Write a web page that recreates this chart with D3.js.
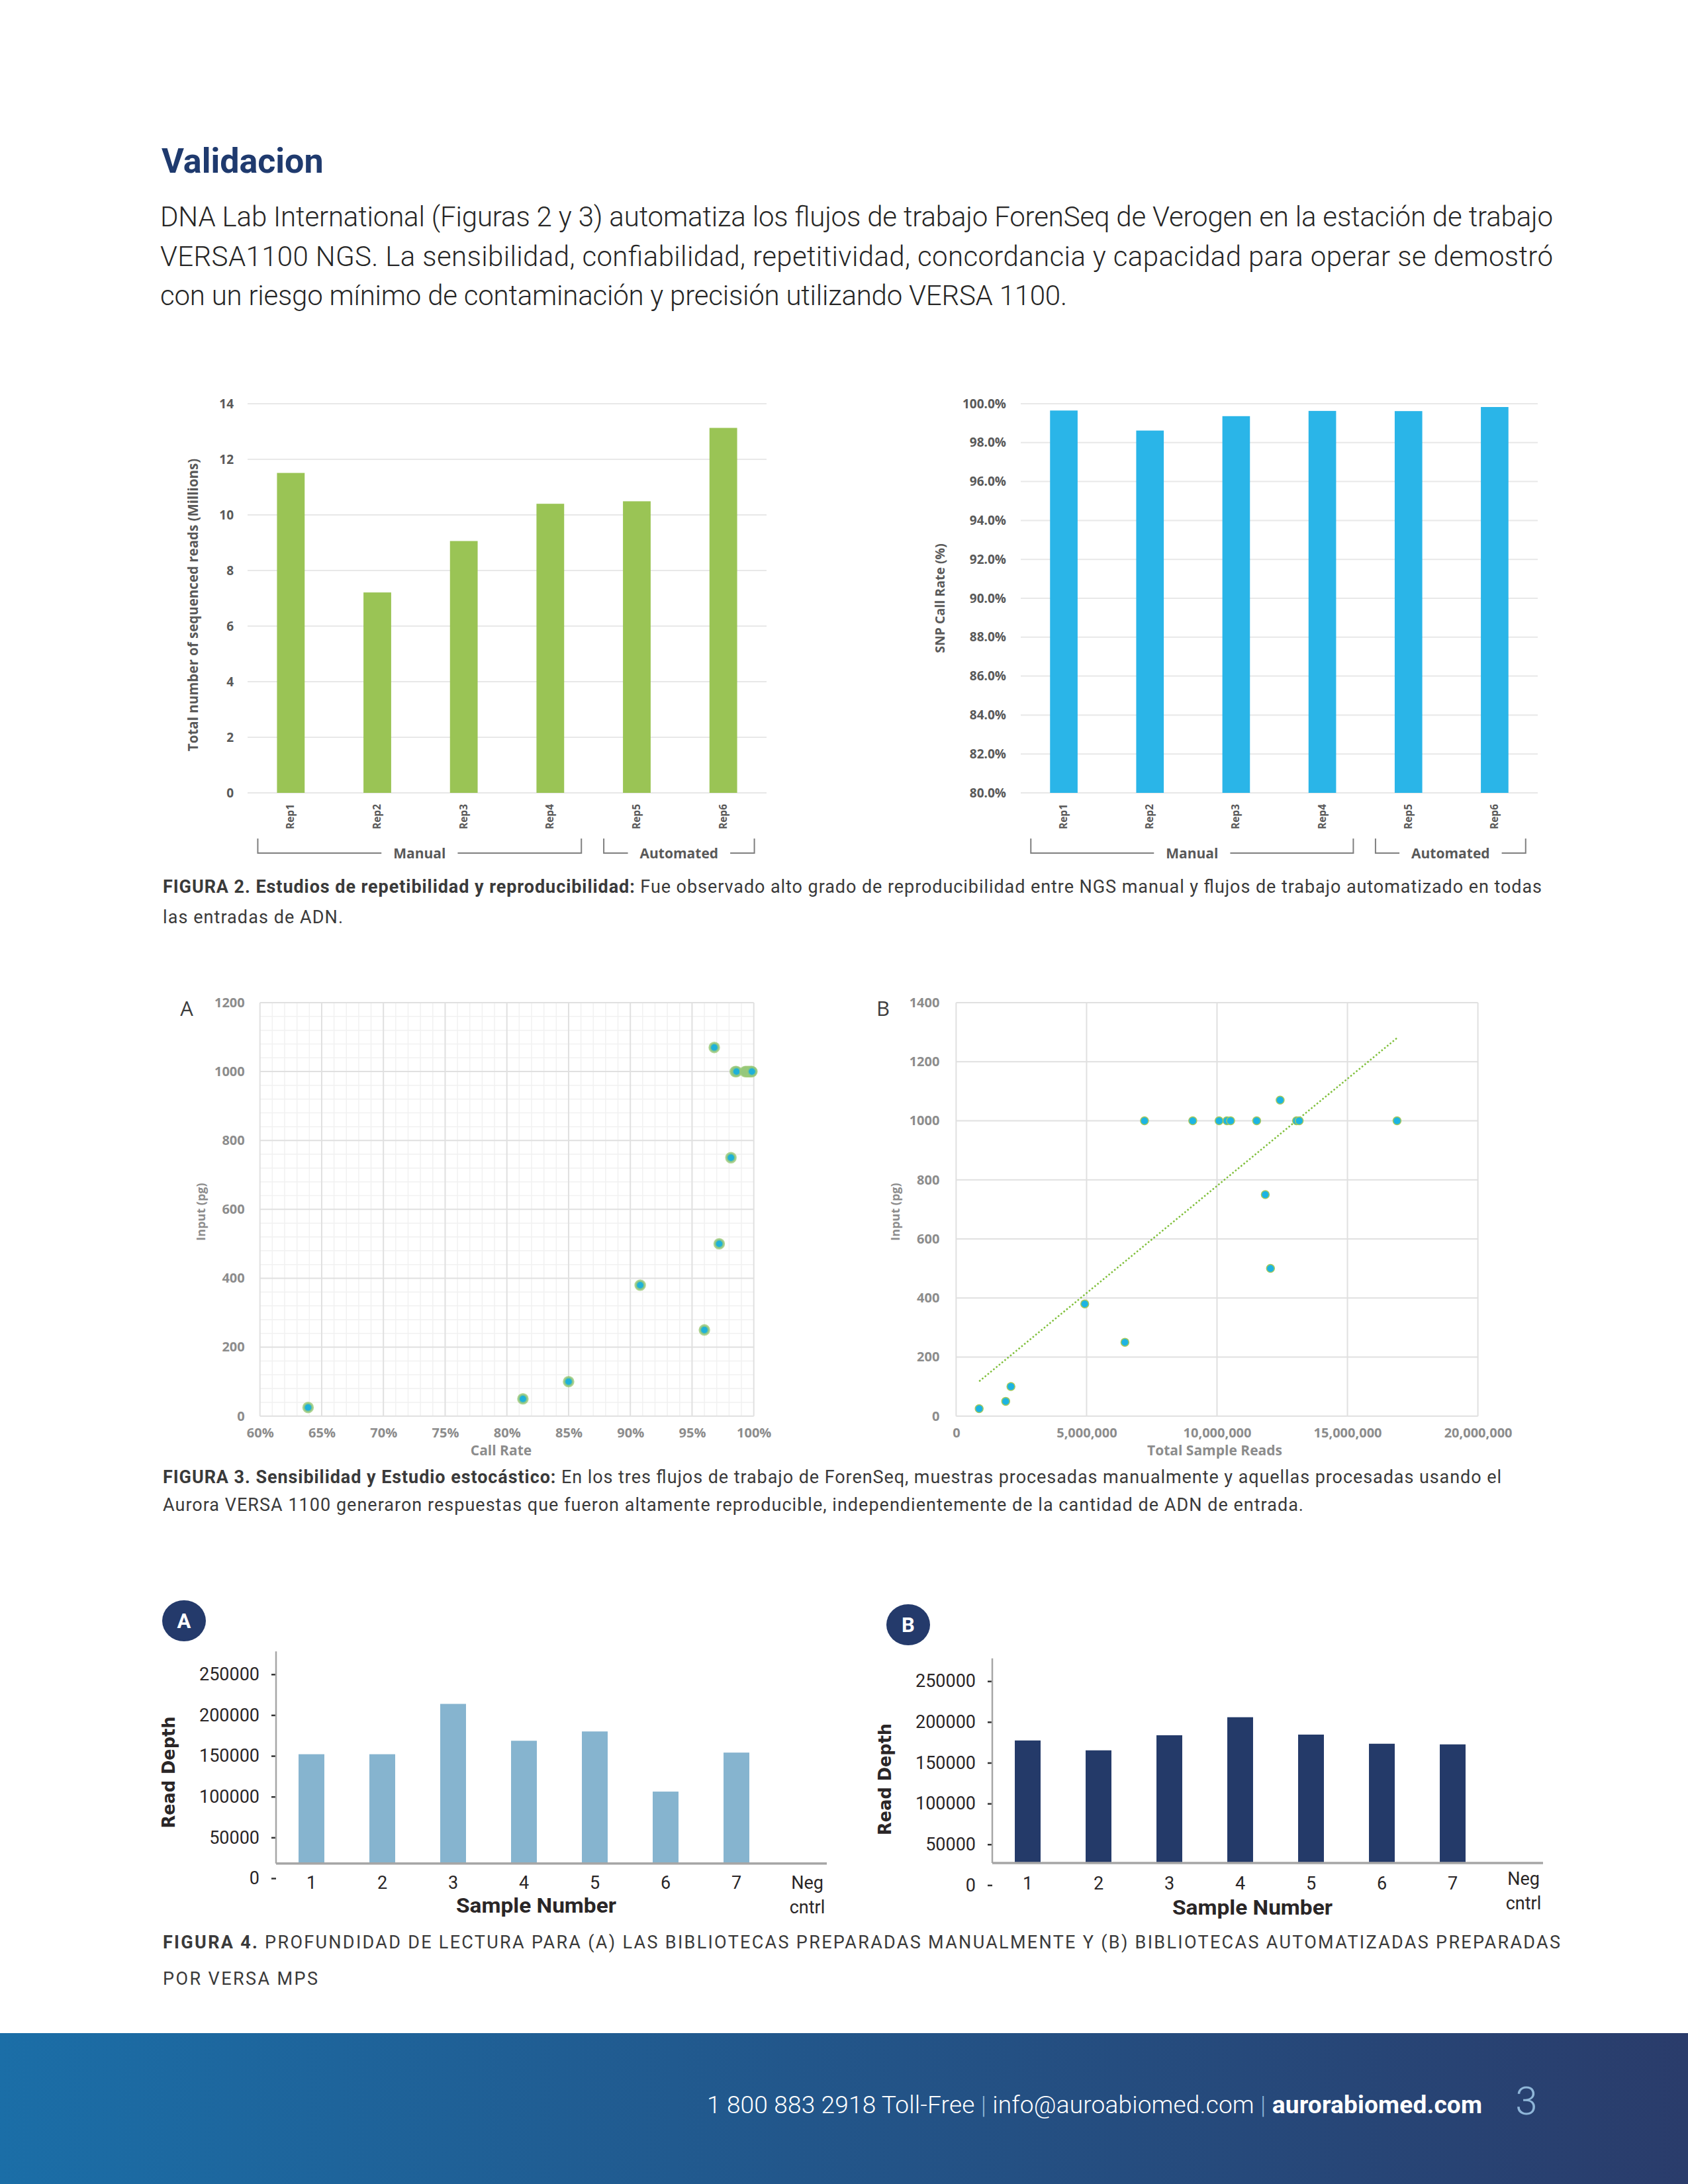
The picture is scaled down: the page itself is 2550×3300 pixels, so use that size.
<!DOCTYPE html>
<html>
<head>
<meta charset="utf-8">
<script src="https://cdn.jsdelivr.net/npm/d3@7"></script>
<style>
  body { margin: 0; background: #fff; }
  svg { display: block; }
</style>
</head>
<body>
<div id="page"></div>
<script>
const W = 2550, H = 3300;

// ---- Figura 2 data
const reps = ["Rep1", "Rep2", "Rep3", "Rep4", "Rep5", "Rep6"];
const readsMillions = [11.51, 7.21, 9.06, 10.40, 10.49, 13.13];
const snpCallRate = [99.65, 98.62, 99.36, 99.63, 99.62, 99.83];
const repGroups = [
  {name: "Manual", from: "Rep1", to: "Rep4"},
  {name: "Automated", from: "Rep5", to: "Rep6"}
];
const readsTicks = [0, 2, 4, 6, 8, 10, 12, 14];
const callTicks = [80, 82, 84, 86, 88, 90, 92, 94, 96, 98, 100];

// ---- Figura 3 data (same 17 samples in A and B)
const inputPg = [25, 50, 100, 380, 250, 500, 1070, 750, 1000, 1000, 1000, 1000, 1000, 1000, 1000, 1000, 1000];
const callRate = [63.9, 81.3, 85.0, 90.8, 96.0, 97.2, 96.8, 98.15, 98.5, 98.6, 99.3, 99.4, 99.5, 99.6, 99.7, 99.8, 99.85];
const totalReads = [883000, 1900000, 2100000, 4930000, 6470000, 12050000, 12420000, 11850000,
  7220000, 9070000, 10080000, 10380000, 10520000, 11520000, 13050000, 13150000, 16900000];
const rateTicks = [60, 65, 70, 75, 80, 85, 90, 95, 100];
const readsTicksB = [0, 5000000, 10000000, 15000000, 20000000];
const inputTicksA = [0, 200, 400, 600, 800, 1000, 1200];
const inputTicksB = [0, 200, 400, 600, 800, 1000, 1200, 1400];

// ---- Figura 4 data
const samples = ["1", "2", "3", "4", "5", "6", "7", "Neg cntrl"];
const manualDepth = [152000, 152000, 213700, 168500, 179900, 106200, 154000, 0];
const autoDepth = [177300, 165200, 183700, 205800, 184500, 173300, 172500, 0];
const depthTicks = [0, 50000, 100000, 150000, 200000, 250000];

const svg = d3.select("#page").append("svg")
  .attr("width", W).attr("height", H)
  .attr("viewBox", [0, 0, W, H]);

const txt = "Roboto, 'Noto Sans', sans-serif";
const chartFont = "'Open Sans', 'Noto Sans', sans-serif";

// ---------- header text
svg.append("text")
  .attr("x", 244).attr("y", 261)
  .attr("font-family", txt).attr("font-weight", 700).attr("font-size", 52)
  .attr("fill", "#1f3a6e")
  .text("Validacion");

const para = [
  {t: "DNA Lab International (Figuras 2 y 3) automatiza los flujos de trabajo ForenSeq de Verogen en la estación de trabajo", len: 2104},
  {t: "VERSA1100 NGS. La sensibilidad, confiabilidad, repetitividad, concordancia y capacidad para operar se demostró", len: 2104},
  {t: "con un riesgo mínimo de contaminación y precisión utilizando VERSA 1100.", len: 1370}
];
svg.append("g")
  .attr("font-family", txt).attr("font-size", 42).attr("font-weight", 300).attr("fill", "#262626")
  .selectAll("text").data(para).join("text")
    .attr("x", 242)
    .attr("y", (d, i) => 342 + i * 59.5)
    .attr("textLength", d => d.len)
    .attr("lengthAdjust", "spacing")
    .text(d => d.t);

// ---------- captions
function caption(lines, x, y0, gap) {
  const g = svg.append("g").attr("font-family", txt).attr("font-size", 27).attr("fill", "#3a3a3a");
  lines.forEach((ln, i) => {
    const t = g.append("text").attr("x", x).attr("y", y0 + i * gap)
      .attr("textLength", ln.len).attr("lengthAdjust", "spacing");
    if (ln.b) t.append("tspan").attr("font-weight", 700).text(ln.b);
    t.append("tspan").text(ln.t);
  });
}

// ---------- Figura 2: bar charts
function repChart(o) {
  const x = d3.scaleBand().domain(reps).range([o.x0, o.x1]).paddingInner(0.68).paddingOuter(0.34);
  const y = d3.scaleLinear().domain(o.domain).range([1198, 610]);
  const g = svg.append("g");

  g.append("g").selectAll("line").data(o.ticks).join("line")
    .attr("x1", o.x0).attr("x2", o.x1)
    .attr("y1", d => y(d)).attr("y2", d => y(d))
    .attr("stroke", "#e8e8e8").attr("stroke-width", 2);

  g.append("g").attr("transform", `translate(${o.x0},0)`)
    .call(d3.axisLeft(y).tickValues(o.ticks).tickSize(0).tickPadding(o.pad).tickFormat(o.fmt))
    .call(a => a.select(".domain").remove())
    .attr("font-family", chartFont).attr("font-size", 19).attr("font-weight", 700)
    .attr("color", "#595959");

  g.append("g").selectAll("rect").data(o.values).join("rect")
    .attr("x", (d, i) => x(reps[i]))
    .attr("width", x.bandwidth())
    .attr("y", d => y(d))
    .attr("height", d => y(o.domain[0]) - y(d))
    .attr("fill", o.color);

  g.append("g")
    .attr("font-family", chartFont).attr("font-size", 15.5).attr("font-weight", 700).attr("fill", "#595959")
    .selectAll("text").data(reps).join("text")
      .attr("transform", d => `translate(${x(d) + x.bandwidth() / 2 + 5},1215) rotate(-90)`)
      .attr("text-anchor", "end")
      .text(d => d);

  g.append("text")
    .attr("transform", `translate(${o.labelX},${o.labelY}) rotate(-90)`)
    .attr("text-anchor", "middle")
    .attr("font-family", chartFont).attr("font-size", o.labelSize).attr("font-weight", 700).attr("fill", "#595959")
    .text(o.label);

  repGroups.forEach(gr => {
    const l = x(gr.from) - 29, r = x(gr.to) + x.bandwidth() + 26, mid = (l + r) / 2;
    const t = g.append("text").attr("x", mid).attr("y", 1297)
      .attr("text-anchor", "middle")
      .attr("font-family", chartFont).attr("font-size", 21).attr("font-weight", 700).attr("fill", "#595959")
      .text(gr.name);
    const w = t.node().getComputedTextLength();
    g.append("path")
      .attr("d", `M${l},1267V1289H${mid - w / 2 - 18}M${mid + w / 2 + 18},1289H${r}V1267`)
      .attr("fill", "none").attr("stroke", "#7f7f7f").attr("stroke-width", 2);
  });
}

repChart({
  x0: 374, x1: 1158, domain: [0, 14], ticks: readsTicks, values: readsMillions,
  fmt: d3.format("d"), pad: 21, color: "#9ac455",
  label: "Total number of sequenced reads (Millions)", labelX: 299, labelY: 914, labelSize: 20.5
});
repChart({
  x0: 1542, x1: 2323, domain: [80, 100], ticks: callTicks, values: snpCallRate,
  fmt: d => d.toFixed(1) + "%", pad: 22, color: "#2ab5e8",
  label: "SNP Call Rate (%)", labelX: 1427, labelY: 904, labelSize: 19.5
});

caption([
  {b: "FIGURA 2. Estudios de repetibilidad y reproducibilidad:", t: " Fue observado alto grado de reproducibilidad entre NGS manual y flujos de trabajo automatizado en todas", len: 2083},
  {t: "las entradas de ADN.", len: 272}
], 246, 1349, 46);

// ---------- Figura 3: scatter plots
function scatterFrame(o) {
  const g = svg.append("g");
  const x = d3.scaleLinear().domain(o.xDomain).range(o.xRange);
  const y = d3.scaleLinear().domain(o.yDomain).range([2139.7, 1515]);

  if (o.minorX) {
    g.append("g").selectAll("line").data(o.minorX).join("line")
      .attr("x1", d => x(d)).attr("x2", d => x(d)).attr("y1", y.range()[0]).attr("y2", y.range()[1])
      .attr("stroke", "#f1f1f1").attr("stroke-width", 1.5);
    g.append("g").selectAll("line").data(o.minorY).join("line")
      .attr("y1", d => y(d)).attr("y2", d => y(d)).attr("x1", x.range()[0]).attr("x2", x.range()[1])
      .attr("stroke", "#f1f1f1").attr("stroke-width", 1.5);
  }
  g.append("g").selectAll("line").data(o.xTicks).join("line")
    .attr("x1", d => x(d)).attr("x2", d => x(d)).attr("y1", y.range()[0]).attr("y2", y.range()[1])
    .attr("stroke", "#e0e0e0").attr("stroke-width", 2);
  g.append("g").selectAll("line").data(o.yTicks).join("line")
    .attr("y1", d => y(d)).attr("y2", d => y(d)).attr("x1", x.range()[0]).attr("x2", x.range()[1])
    .attr("stroke", "#e0e0e0").attr("stroke-width", 2);

  g.append("g").attr("transform", `translate(${x.range()[0]},0)`)
    .call(d3.axisLeft(y).tickValues(o.yTicks).tickSize(0).tickPadding(o.yPad).tickFormat(d3.format("d")))
    .call(a => a.select(".domain").remove())
    .attr("font-family", chartFont).attr("font-size", 20).attr("font-weight", 700).attr("color", "#8c8c8c");

  g.append("g").attr("transform", `translate(0,${y.range()[0]})`)
    .call(d3.axisBottom(x).tickValues(o.xTicks).tickSize(0).tickPadding(18).tickFormat(o.xFmt))
    .call(a => a.select(".domain").remove())
    .attr("font-family", chartFont).attr("font-size", 20).attr("font-weight", 700).attr("color", "#8c8c8c");

  g.append("text").attr("x", o.xLabelX).attr("y", 2199).attr("text-anchor", "middle")
    .attr("font-family", chartFont).attr("font-size", 21).attr("font-weight", 700).attr("fill", "#8c8c8c")
    .text(o.xLabel);
  g.append("text")
    .attr("transform", `translate(${o.yLabelX},1831) rotate(-90)`)
    .attr("text-anchor", "middle")
    .attr("font-family", chartFont).attr("font-size", 18).attr("font-weight", 700).attr("fill", "#8c8c8c")
    .text("Input (pg)");
  g.append("text").attr("x", o.letterX).attr("y", 1535).attr("text-anchor", "middle")
    .attr("font-family", chartFont).attr("font-size", 31).attr("font-weight", 400).attr("fill", "#3d3d3d")
    .text(o.letter);
  return {g, x, y};
}

const A3 = scatterFrame({
  xDomain: [60, 100], xRange: [392.7, 1138.7], yDomain: [0, 1200],
  xTicks: rateTicks, yTicks: inputTicksA,
  minorX: d3.range(61, 100).filter(d => d % 5 !== 0),
  minorY: d3.range(40, 1200, 40).filter(d => d % 200 !== 0),
  xFmt: d => d + "%", yPad: 23,
  xLabel: "Call Rate", xLabelX: 757, yLabelX: 310,
  letter: "A", letterX: 282
});
A3.g.append("g").selectAll("circle").data(inputPg).join("circle")
  .attr("cx", (d, i) => A3.x(callRate[i]))
  .attr("cy", d => A3.y(d))
  .attr("r", 6.8)
  .attr("fill", "#1fb1d9")
  .attr("stroke", "#9cc977").attr("stroke-opacity", 0.8).attr("stroke-width", 3.8);

const B3 = scatterFrame({
  xDomain: [0, 20000000], xRange: [1444.4, 2232.6], yDomain: [0, 1400],
  xTicks: readsTicksB, yTicks: inputTicksB,
  xFmt: d3.format(","), yPad: 25,
  xLabel: "Total Sample Reads", xLabelX: 1835, yLabelX: 1359,
  letter: "B", letterX: 1334
});
// least-squares trendline through the samples
const mx = d3.mean(totalReads), my = d3.mean(inputPg);
const slope = d3.sum(totalReads, (v, i) => (v - mx) * (inputPg[i] - my)) / d3.sum(totalReads, v => (v - mx) ** 2);
const trend = v => my + slope * (v - mx);
const [rMin, rMax] = d3.extent(totalReads);
B3.g.append("line")
  .attr("x1", B3.x(rMin)).attr("y1", B3.y(trend(rMin)))
  .attr("x2", B3.x(rMax)).attr("y2", B3.y(trend(rMax)))
  .attr("stroke", "#7fbf3a").attr("stroke-width", 2.5).attr("stroke-dasharray", "2.5,3");
B3.g.append("g").selectAll("circle").data(inputPg).join("circle")
  .attr("cx", (d, i) => B3.x(totalReads[i]))
  .attr("cy", d => B3.y(d))
  .attr("r", 6)
  .attr("fill", "#1db4e2")
  .attr("stroke", "#a5c95c").attr("stroke-width", 1.5);

caption([
  {b: "FIGURA 3. Sensibilidad y Estudio estocástico:", t: " En los tres flujos de trabajo de ForenSeq, muestras procesadas manualmente y aquellas procesadas usando el", len: 2022},
  {t: "Aurora VERSA 1100 generaron respuestas que fueron altamente reproducible, independientemente de la cantidad de ADN de entrada.", len: 1723}
], 246, 2241, 42);

// ---------- Figura 4: read depth
function depthChart(o) {
  const g = svg.append("g");
  const step = 107;
  const x = d3.scaleBand().domain(samples).range([o.axisX, o.axisX + step * samples.length])
    .paddingInner(0.636).paddingOuter(0.318);
  const y = d3.scaleLinear().domain([0, 250000]).range([o.zeroY, o.zeroY - 308.2]);
  const baseY = y(o.base);

  g.append("g")
    .attr("transform", `translate(${o.axisX},0)`)
    .call(d3.axisLeft(y).tickValues(depthTicks).tickSize(7).tickPadding(18).tickFormat(d3.format("d")))
    .call(a => a.select(".domain").remove())
    .call(a => a.selectAll(".tick line").attr("stroke", "#333").attr("stroke-width", 2.5))
    .attr("font-family", txt).attr("font-size", 27).attr("color", "#2a2627");

  g.append("line")
    .attr("x1", o.axisX).attr("x2", o.axisX)
    .attr("y1", y(278000)).attr("y2", baseY)
    .attr("stroke", "#a6a6a6").attr("stroke-width", 2.5);

  g.append("g").selectAll("rect").data(o.values.filter(v => v > o.base)).join("rect")
    .attr("x", (d, i) => x(samples[i]))
    .attr("width", x.bandwidth())
    .attr("y", d => y(d))
    .attr("height", d => baseY - y(d))
    .attr("fill", o.color);

  g.append("line")
    .attr("x1", o.axisX).attr("x2", x.range()[1] - 24)
    .attr("y1", baseY).attr("y2", baseY)
    .attr("stroke", "#a6a6a6").attr("stroke-width", 3.5);

  g.append("g").attr("font-family", txt).attr("font-size", 27).attr("fill", "#2a2627")
    .attr("text-anchor", "middle")
    .selectAll("text").data(samples).join("text")
      .attr("x", d => x(d) + x.bandwidth() / 2)
      .attr("y", baseY + o.labelDy)
      .each(function(d) {
        const parts = d.split(" ");
        d3.select(this).selectAll("tspan").data(parts).join("tspan")
          .attr("x", x(d) + x.bandwidth() / 2)
          .attr("dy", (p, j) => j === 0 ? (parts.length > 1 ? o.negDy : 0) : 37)
          .text(p => p);
      });

  g.append("text")
    .attr("x", o.axisX + 393).attr("y", o.titleY)
    .attr("text-anchor", "middle")
    .attr("font-family", txt).attr("font-size", 31).attr("font-weight", 700).attr("fill", "#2a2627")
    .attr("textLength", 242).attr("lengthAdjust", "spacingAndGlyphs")
    .text("Sample Number");

  g.append("text")
    .attr("transform", `translate(${o.axisX - 153},${o.zeroY - 160}) rotate(-90)`)
    .attr("text-anchor", "middle")
    .attr("font-family", "'DejaVu Sans', sans-serif").attr("font-size", 26).attr("font-weight", 700)
    .attr("fill", "#2a2627")
    .attr("textLength", 169).attr("lengthAdjust", "spacingAndGlyphs")
    .text("Read Depth");

  g.append("ellipse").attr("cx", o.badgeX).attr("cy", o.badgeY).attr("rx", 33).attr("ry", 31)
    .attr("fill", "#243a6b");
  g.append("text").attr("x", o.badgeX).attr("y", o.badgeY + 11).attr("text-anchor", "middle")
    .attr("font-family", txt).attr("font-size", 31).attr("font-weight", 700).attr("fill", "#fff")
    .text(o.badge);
}

depthChart({
  axisX: 417, zeroY: 2838, base: 18000, values: manualDepth, color: "#86b4cf",
  labelDy: 38, negDy: 0, titleY: 2890, badge: "A", badgeX: 278, badgeY: 2449
});
depthChart({
  axisX: 1499, zeroY: 2848.4, base: 27000, values: autoDepth, color: "#243a69",
  labelDy: 40, negDy: -7, titleY: 2893, badge: "B", badgeX: 1372, badgeY: 2455
});

caption([
  {b: "FIGURA 4.", t: " PROFUNDIDAD DE LECTURA PARA (A) LAS BIBLIOTECAS PREPARADAS MANUALMENTE Y (B) BIBLIOTECAS AUTOMATIZADAS PREPARADAS", len: 2111},
  {t: "POR VERSA MPS", len: 234}
], 246, 2944, 55);

// ---------- footer
const grad = svg.append("defs").append("linearGradient").attr("id", "foot")
  .attr("x1", "0").attr("x2", "1").attr("y1", "0").attr("y2", "0");
grad.append("stop").attr("offset", "0%").attr("stop-color", "#1b6ea7");
grad.append("stop").attr("offset", "100%").attr("stop-color", "#2a3c6b");
svg.append("rect").attr("x", 0).attr("y", 3072).attr("width", W).attr("height", H - 3072)
  .attr("fill", "url(#foot)");

const foot = svg.append("text").attr("x", 1068).attr("y", 3193)
  .attr("font-family", txt).attr("font-size", 37).attr("font-weight", 300).attr("fill", "#fff")
  .attr("textLength", 1171).attr("lengthAdjust", "spacing");
foot.append("tspan").text("1 800 883 2918 Toll-Free ");
foot.append("tspan").attr("fill", "#8fb6d8").text("|");
foot.append("tspan").text(" info@auroabiomed.com ");
foot.append("tspan").attr("fill", "#8fb6d8").text("|");
foot.append("tspan").attr("font-weight", 700).text(" aurorabiomed.com");

svg.append("text").attr("x", 2306).attr("y", 3195).attr("text-anchor", "middle")
  .attr("font-family", txt).attr("font-size", 60).attr("font-weight", 300).attr("fill", "#8fb6d8")
  .text("3");
</script>
</body>
</html>
